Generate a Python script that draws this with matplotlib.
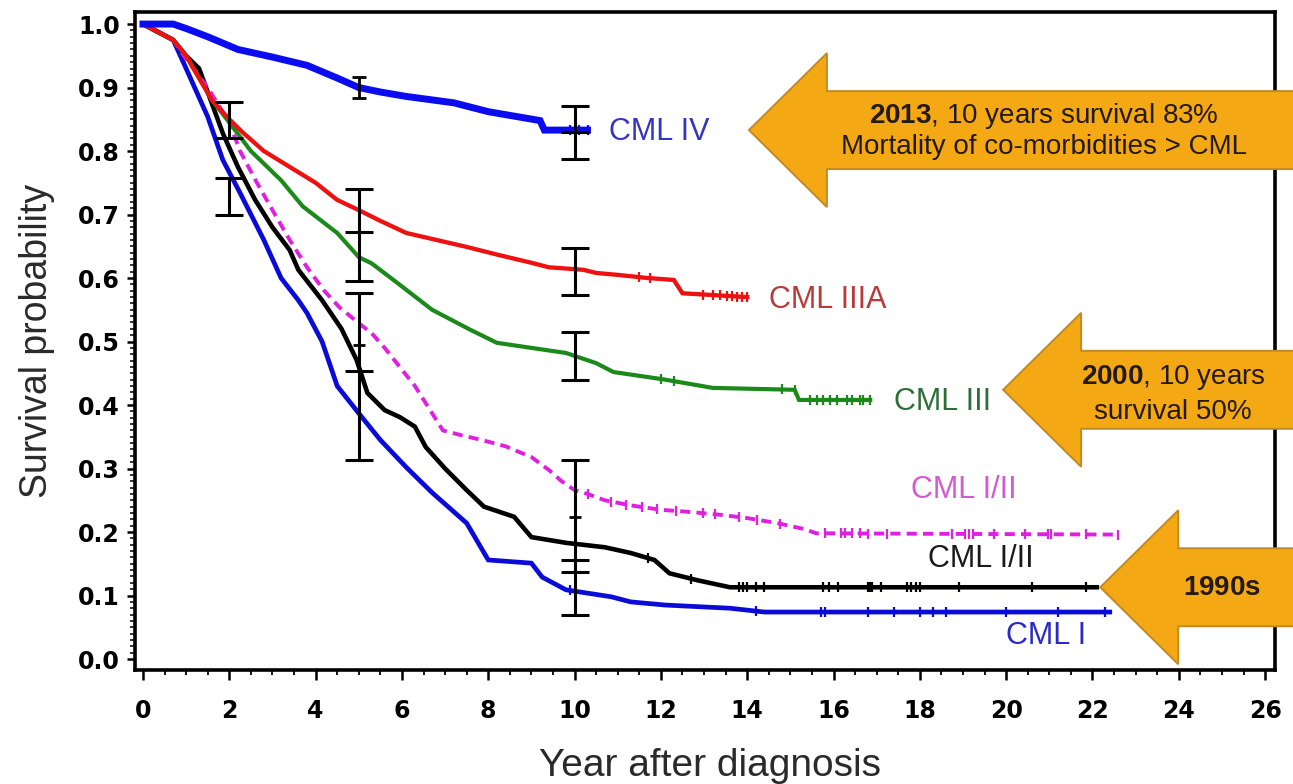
import numpy as np
import matplotlib
matplotlib.use('Agg')
from matplotlib import pyplot as plt
from matplotlib.patches import Polygon
from matplotlib.transforms import IdentityTransform

plt.rcParams['font.family'] = ['Liberation Sans', 'DejaVu Sans']
plt.rcParams['mathtext.fontset'] = 'custom'
plt.rcParams['mathtext.rm'] = 'Liberation Sans'
plt.rcParams['mathtext.bf'] = 'Liberation Sans:bold'

# Kaplan-Meier estimates (years, survival probability)
iv_t = [0, 0.7, 1.0, 1.5, 2.2, 3.0, 3.8, 4.5, 5.0, 5.5, 6.1, 7.2, 8.0, 8.6, 9.2, 9.3, 10.3]
iv_s = [1.0, 1.0, 0.993, 0.98, 0.96, 0.948, 0.935, 0.915, 0.90, 0.893, 0.886, 0.876, 0.862, 0.855, 0.848, 0.833, 0.833]

iiia_t = [0, 0.7, 1.0, 1.6, 2.0, 2.3, 2.8, 3.4, 4.0, 4.5, 5.0, 5.5, 6.1, 6.8, 7.5, 8.2, 9.0, 9.4,
          10.2, 10.5, 11.0, 11.7, 12.3, 12.5, 14.0]
iiia_s = [1.0, 0.975, 0.95, 0.88, 0.85, 0.83, 0.80, 0.775, 0.75, 0.723, 0.707, 0.69, 0.671, 0.66, 0.649,
          0.637, 0.624, 0.617, 0.613, 0.608, 0.605, 0.600, 0.597, 0.576, 0.570]

iii_t = [0, 0.7, 1.0, 1.6, 2.0, 2.5, 3.2, 3.7, 4.5, 5.0, 5.3, 5.9, 6.7, 7.6, 8.2, 9.0, 9.8, 10.5,
         10.9, 12.1, 13.2, 15.1, 15.2, 16.85]
iii_s = [1.0, 0.975, 0.95, 0.88, 0.845, 0.80, 0.754, 0.713, 0.671, 0.633, 0.623, 0.592, 0.55, 0.518,
         0.498, 0.49, 0.482, 0.466, 0.452, 0.44, 0.427, 0.424, 0.408, 0.408]

i2m_t = [0, 0.7, 1.0, 1.5, 2.0, 2.25, 2.6, 3.0, 3.4, 3.8, 4.2, 4.55, 5.0, 5.3, 5.6, 5.95, 6.3, 6.7,
         6.95, 7.4, 7.85, 8.4, 9.0, 9.4, 9.7, 10.0, 10.3, 10.7, 11.3, 12.0, 12.6, 13.4, 14.0, 14.7,
         15.3, 15.6, 22.6]
i2m_s = [1.0, 0.975, 0.945, 0.90, 0.845, 0.80, 0.755, 0.707, 0.66, 0.617, 0.58, 0.554, 0.529, 0.513,
         0.49, 0.46, 0.43, 0.387, 0.36, 0.352, 0.345, 0.335, 0.318, 0.298, 0.28, 0.266, 0.26, 0.25,
         0.242, 0.235, 0.232, 0.227, 0.222, 0.214, 0.205, 0.198, 0.196]

i2k_t = [0, 0.7, 1.0, 1.3, 1.85, 2.2, 2.6, 3.0, 3.4, 3.6, 4.15, 4.6, 4.95, 5.2, 5.6, 5.95, 6.3, 6.55,
         7.0, 7.5, 7.9, 8.6, 9.0, 9.8, 10.7, 11.3, 11.85, 12.2, 12.85, 13.6, 22.1]
i2k_s = [1.0, 0.975, 0.95, 0.93, 0.828, 0.775, 0.723, 0.68, 0.644, 0.613, 0.565, 0.52, 0.471, 0.419,
         0.392, 0.381, 0.366, 0.334, 0.30, 0.266, 0.24, 0.224, 0.192, 0.183, 0.176, 0.167, 0.156,
         0.135, 0.124, 0.113, 0.113]

i_t = [0, 0.7, 1.0, 1.5, 1.85, 2.25, 2.8, 3.2, 3.6, 3.8, 4.15, 4.5, 5.0, 5.5, 6.1, 6.7, 7.5, 8.0,
       9.0, 9.25, 9.8, 10.85, 11.3, 12.1, 13.6, 14.4, 22.4]
i_s = [1.0, 0.975, 0.93, 0.854, 0.786, 0.734, 0.66, 0.60, 0.565, 0.545, 0.50, 0.43, 0.387, 0.345,
       0.302, 0.262, 0.214, 0.156, 0.151, 0.129, 0.109, 0.098, 0.09, 0.085, 0.08, 0.074, 0.074]

# censored observations
iv_c = [9.9, 10.1, 10.3]
iiia_c = [11.5, 11.75, 12.98, 13.2, 13.37, 13.53, 13.65, 13.77, 13.88, 14.0]
iii_c = [12.0, 12.3, 14.8, 15.1, 15.46, 15.62, 15.76, 15.92, 16.08, 16.32, 16.43, 16.62, 16.69, 16.85]
i2m_c = [10.3, 10.85, 11.2, 11.57, 11.9, 12.35, 12.98, 13.26, 13.8, 14.23, 14.76, 15.8, 16.18, 16.27,
         16.43, 16.62, 16.8, 17.24, 18.75, 19.05, 19.14, 19.24, 19.72, 20.44, 20.97, 21.04, 21.85, 22.6]
i2k_c = [11.7, 12.7, 13.8, 13.9, 14.0, 14.2, 14.4, 15.75, 15.9, 16.1, 16.8, 16.85, 16.9, 17.1,
         17.7, 17.8, 17.9, 18.0, 18.9, 20.6, 21.85]
i_c = [9.9, 14.2, 15.7, 15.8, 16.8, 17.4, 18.0, 18.3, 18.6, 20.0, 21.2, 22.3]

# confidence intervals at 2, 5 and 10 years
eb_x = [2, 2, 5, 5, 10, 10, 10, 10, 10]
eb_lo = [0.820, 0.699, 0.595, 0.313, 0.787, 0.574, 0.440, 0.137, 0.069]
eb_hi = [0.878, 0.757, 0.740, 0.577, 0.871, 0.648, 0.515, 0.313, 0.156]
iv5_lo, iv5_hi = 0.883, 0.917
cross_x = [5, 5, 10]
cross_y = [0.672, 0.453, 0.830]
small_x = [5, 10]
small_y = [0.494, 0.224]

curves = [
    ('CML I', i_t, i_s, i_c, '#0b0bd8', 3.4, '-', 20.0, 0.036, '#2a2ac4'),
    ('CML I/II', i2k_t, i2k_s, i2k_c, '#000000', 3.3, '-', 18.2, 0.158, '#1a1a1a'),
    ('CML I/II', i2m_t, i2m_s, i2m_c, '#e020e0', 2.8, (0, (2.6, 1.6)), 17.8, 0.266, '#d35ad3'),
    ('CML III', iii_t, iii_s, iii_c, '#1b8a1b', 3.0, '-', 17.4, 0.405, '#2e6e3a'),
    ('CML IIIA', iiia_t, iiia_s, iiia_c, '#ee1111', 3.1, '-', 14.5, 0.565, '#b83a3a'),
    ('CML IV', iv_t, iv_s, iv_c, '#0b0bf0', 5.0, '-', 10.8, 0.830, '#3535c0'),
]

fig = plt.figure(figsize=(12.93, 7.84), dpi=100)
ax = fig.add_axes([0.1044, 0.1454, 0.8817, 0.8393])

for name, t, s, cens, col, lw, ls, lx, ly, lcol in curves:
    ax.plot(t, s, color=col, lw=lw, linestyle=ls, solid_joinstyle='miter', zorder=3)
    ax.plot(cens, np.interp(cens, t, s), linestyle='none', marker='|', ms=7,
            mew=1.6, color=col, zorder=3)
    ax.text(lx, ly, name, color=lcol, fontsize=22, ha='left', va='center', zorder=4)

eb_x = np.array(eb_x, dtype=float)
eb_lo = np.array(eb_lo)
eb_hi = np.array(eb_hi)
mid = (eb_lo + eb_hi) / 2
ax.errorbar(eb_x, mid, yerr=[mid - eb_lo, eb_hi - mid], fmt='none', ecolor='black',
            elinewidth=2.2, capsize=10, capthick=2.2, zorder=5)
iv5_mid = (iv5_lo + iv5_hi) / 2
ax.errorbar([5], [iv5_mid], yerr=[[iv5_mid - iv5_lo], [iv5_hi - iv5_mid]], fmt='none',
            ecolor='black', elinewidth=2.0, capsize=5, capthick=2.0, zorder=5)
ax.plot(cross_x, cross_y, linestyle='none', marker='_', ms=20, mew=2.2, color='black', zorder=5)
ax.plot(small_x, small_y, linestyle='none', marker='_', ms=9, mew=2.0, color='black', zorder=5)

ax.set_xlim(-0.185, 26.23)
ax.set_ylim(-0.0173, 1.019)
ax.set_xticks(np.arange(0, 27, 2))
ax.set_xticks(np.arange(0, 26.1, 0.5), minor=True)
ax.set_yticks(np.arange(0, 1.01, 0.1))
ax.set_yticks(np.arange(0, 1.001, 0.01), minor=True)
ax.set_yticklabels(['%.1f' % v for v in np.arange(0, 1.01, 0.1)])
for sp in ax.spines.values():
    sp.set_linewidth(2.6)
ax.tick_params(axis='both', which='major', width=1.8, labelsize=17)
ax.tick_params(axis='x', which='major', length=7, pad=14)
ax.tick_params(axis='x', which='minor', length=3.5, width=1.3)
ax.tick_params(axis='y', which='major', length=6, pad=5)
ax.tick_params(axis='y', which='minor', length=3.5, width=1.1)
for lab in ax.get_xticklabels() + ax.get_yticklabels():
    lab.set_family('DejaVu Sans')
    lab.set_fontweight('bold')

ax.set_xlabel('Year after diagnosis', fontsize=28, color='#2a2a2a')
ax.set_ylabel('Survival probability', fontsize=27, color='#2a2a2a')
ax.xaxis.set_label_coords(0.504, -0.118)
ax.yaxis.set_label_coords(-0.070, 0.50)

# era arrows pointing left at the curves
W = fig.get_figwidth() * fig.dpi


def era_arrow(x, y, lines, dx, dy):
    tx, ty = ax.transData.transform((x, y))
    head, hh, hb = 78, 77, 39
    right = W + 30
    pts = [(tx, ty), (tx + head, ty + hh), (tx + head, ty + hb), (right, ty + hb),
           (right, ty - hb), (tx + head, ty - hb), (tx + head, ty - hh)]
    fig.add_artist(Polygon(pts, closed=True, transform=IdentityTransform(),
                           facecolor='#f4a814', edgecolor='#c08a24', lw=1.4, zorder=5))
    for i, txt in enumerate(lines):
        fig.text(tx + dx, ty + dy[i], txt, transform=IdentityTransform(), ha='center',
                 va='center', fontsize=20, color='#231a10', zorder=6)


era_arrow(14.04, 0.833, [r'$\mathbf{2013}$, 10 years survival 83%',
                         'Mortality of co-morbidities > CML'], 295, [14, -17])
era_arrow(19.93, 0.424, [r'$\mathbf{2000}$, 10 years', 'survival 50%'], 170, [12, -22])
era_arrow(22.18, 0.113, [r'$\mathbf{1990s}$'], 122, [-1])

fig.savefig('out.png', dpi=100)
